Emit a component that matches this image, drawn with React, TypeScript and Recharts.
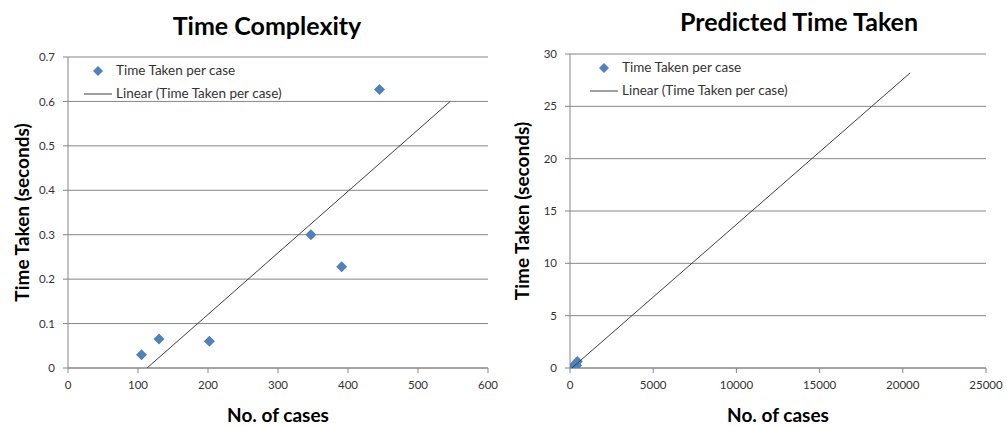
import React from "react";
import {
  ScatterChart,
  Scatter,
  XAxis,
  YAxis,
  CartesianGrid,
} from "recharts";

// measured points (cases, seconds)
const CASES = [105, 130, 202, 347, 391, 445];
const SECONDS = [0.03, 0.065, 0.06, 0.3, 0.228, 0.627];

// trendline end points
const TREND_SMALL_X = [113, 546];
const TREND_SMALL_Y = [0, 0.6];
const TREND_BIG_X = [113, 20445];
const TREND_BIG_Y = [0, 28.2];

const SMALL_X_TICKS = [0, 100, 200, 300, 400, 500, 600];
const SMALL_Y_TICKS = [0, 0.1, 0.2, 0.3, 0.4, 0.5, 0.6, 0.7];
const BIG_X_TICKS = [0, 5000, 10000, 15000, 20000, 25000];
const BIG_Y_TICKS = [0, 5, 10, 15, 20, 25, 30];

const SERIES_NAME = "Time Taken per case";
const TREND_NAME = "Linear (Time Taken per case)";

const FONT = "Lato, 'Open Sans', sans-serif";
const BLUE = "#4f81bd";
const GRID = "#868686";
const TEXT = "#333";

const points = CASES.map((x, i) => ({ x, y: SECONDS[i] }));
const trendSmall = TREND_SMALL_X.map((x, i) => ({ x, y: TREND_SMALL_Y[i] }));
const trendBig = TREND_BIG_X.map((x, i) => ({ x, y: TREND_BIG_Y[i] }));

const Diamond = (props: any) => {
  const { cx, cy } = props;
  if (cx == null || cy == null) return <g />;
  const r = 5.5;
  return (
    <path
      d={`M${cx},${cy - r}L${cx + r},${cy}L${cx},${cy + r}L${cx - r},${cy}Z`}
      fill={BLUE}
    />
  );
};

const NoDot = () => <g />;

// Excel-style legend sitting inside the plot area
const LegendBox = ({ left, top }: { left: number; top: number }) => (
  <div
    style={{
      position: "absolute",
      left,
      top,
      zIndex: 2,
      fontFamily: FONT,
      fontSize: 13.5,
      color: TEXT,
      lineHeight: "23px",
      whiteSpace: "nowrap",
    }}
  >
    <div style={{ display: "flex", alignItems: "center" }}>
      <svg width={32} height={12}>
        <path d="M14,1L19,6L14,11L9,6Z" fill={BLUE} />
      </svg>
      <span>{SERIES_NAME}</span>
    </div>
    <div style={{ display: "flex", alignItems: "center" }}>
      <svg width={32} height={12}>
        <line x1={0} y1={6} x2={28} y2={6} stroke="#404040" strokeWidth={1} />
      </svg>
      <span>{TREND_NAME}</span>
    </div>
  </div>
);

function Panel({
  title,
  titleX,
  titleY,
  width,
  yAxisWidth,
  margin,
  xDomain,
  yDomain,
  xTicks,
  yTicks,
  trend,
  legendLeft,
  legendTop,
}: {
  title: string;
  titleX: number;
  titleY: number;
  width: number;
  yAxisWidth: number;
  margin: { top: number; right: number; left: number; bottom: number };
  xDomain: [number, number];
  yDomain: [number, number];
  xTicks: number[];
  yTicks: number[];
  trend: { x: number; y: number }[];
  legendLeft: number;
  legendTop: number;
}) {
  const tick = { fill: TEXT, fontSize: 11.5, fontFamily: FONT };
  const axisTitle = { fill: "#000", fontSize: 19, fontWeight: 700, fontFamily: FONT };
  return (
    <div style={{ position: "relative", width, height: 426 }}>
      <div
        style={{
          position: "absolute",
          left: titleX - 150,
          width: 300,
          top: titleY - 16,
          textAlign: "center",
          fontFamily: FONT,
          fontWeight: 700,
          fontSize: 25,
          lineHeight: "32px",
          color: "#000",
        }}
      >
        {title}
      </div>
      <LegendBox left={legendLeft} top={legendTop} />
      <ScatterChart width={width} height={426} margin={margin}>
        <CartesianGrid vertical={false} stroke={GRID} />
        <XAxis
          type="number"
          dataKey="x"
          domain={xDomain}
          ticks={xTicks}
          interval={0}
          height={58}
          stroke={GRID}
          tickSize={5}
          tickMargin={8}
          tick={tick}
          allowDataOverflow
          label={{ value: "No. of cases", position: "insideBottom", offset: 4, style: axisTitle }}
        />
        <YAxis
          type="number"
          dataKey="y"
          domain={yDomain}
          ticks={yTicks}
          interval={0}
          width={yAxisWidth}
          stroke={GRID}
          tickSize={5}
          tickMargin={8}
          tick={tick}
          allowDataOverflow
          label={{
            value: "Time Taken (seconds)",
            angle: -90,
            position: "insideLeft",
            offset: 22,
            style: { ...axisTitle, textAnchor: "middle" },
          }}
        />
        <Scatter
          name={SERIES_NAME}
          data={points}
          shape={Diamond}
          isAnimationActive={false}
        />
        <Scatter
          name={TREND_NAME}
          data={trend}
          line={{ stroke: "#404040", strokeWidth: 1 }}
          shape={NoDot}
          legendType="plainline"
          isAnimationActive={false}
        />
      </ScatterChart>
    </div>
  );
}

export default function App() {
  return (
    <div
      style={{
        position: "absolute",
        left: 0,
        top: 0,
        width: 1007,
        height: 426,
        background: "#fff",
        display: "flex",
      }}
    >
      <Panel
        title="Time Complexity"
        titleX={267}
        titleY={25}
        width={500}
        yAxisWidth={68}
        margin={{ top: 57, right: 12, left: 0, bottom: 0 }}
        xDomain={[0, 600]}
        yDomain={[0, 0.7]}
        xTicks={SMALL_X_TICKS}
        yTicks={SMALL_Y_TICKS}
        trend={trendSmall}
        legendLeft={84}
        legendTop={59}
      />
      <Panel
        title="Predicted Time Taken"
        titleX={299}
        titleY={21}
        width={507}
        yAxisWidth={70}
        margin={{ top: 54, right: 21, left: 0, bottom: 0 }}
        xDomain={[0, 25000]}
        yDomain={[0, 30]}
        xTicks={BIG_X_TICKS}
        yTicks={BIG_Y_TICKS}
        trend={trendBig}
        legendLeft={90}
        legendTop={56}
      />
    </div>
  );
}
